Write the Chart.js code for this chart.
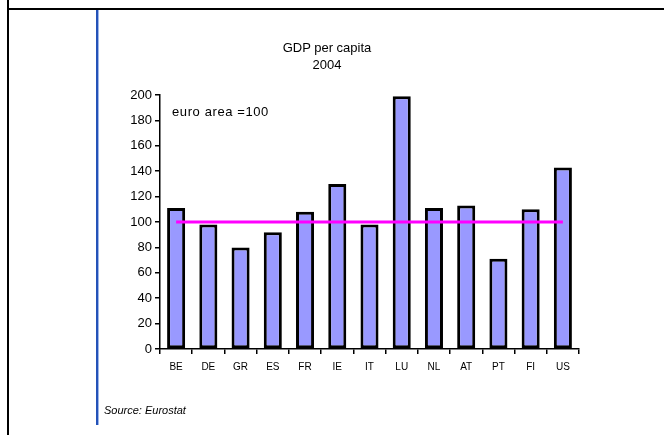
<!DOCTYPE html>
<html lang="en">
<head>
  <meta charset="UTF-8">
  <title>GDP per capita 2004</title>
  <script src="https://cdn.jsdelivr.net/npm/chart.js"></script>
  <style>
    body {
      margin: 0;
      padding: 0;
      background: #fff;
      font-family: 'Liberation Sans', Arial, sans-serif;
      color: #000;
    }
    .page {
      position: relative;
      width: 664px;
      height: 435px;
      overflow: hidden;
    }
    .frame-left {
      position: absolute; left: 7px; top: 0; width: 2px; height: 435px; background: #000;
    }
    .frame-top {
      position: absolute; left: 7px; top: 8px; width: 657px; height: 2px; background: #000;
    }
    .blue-rule {
      position: absolute; left: 96px; top: 10px; width: 2px; height: 415px;
      background: #2452b8; border-right: 1px solid #9db6ea;
    }
    #chart {
      position: absolute; left: 0; top: 0;
    }
    .title {
      position: absolute; left: 227px; top: 39px; width: 200px;
      text-align: center; font-size: 13px; line-height: 17px;
    }
    .note {
      position: absolute; left: 172px; top: 104px;
      font-size: 13px; letter-spacing: 0.6px;
    }
    .source {
      position: absolute; left: 104px; top: 404px;
      font-size: 11px; font-style: italic;
    }
  </style>
</head>
<body>
  <div class="page">
    <div class="frame-left"></div>
    <div class="frame-top"></div>
    <div class="blue-rule"></div>
    <canvas id="chart" width="664" height="435"></canvas>
    <div class="title">GDP per capita<br>2004</div>
    <div class="note">euro area =100</div>
    <div class="source">Source: Eurostat</div>
  </div>
  <script>
    const countries = ['BE', 'DE', 'GR', 'ES', 'FR', 'IE', 'IT', 'LU', 'NL', 'AT', 'PT', 'FI', 'US'];
    const gdpPerCapita = [111, 98, 80, 92, 108, 130, 98, 199, 111, 113, 71, 110, 143];
    const euroArea = [100, 100, 100, 100, 100, 100, 100, 100, 100, 100, 100, 100, 100];
    const yTicks = [0, 20, 40, 60, 80, 100, 120, 140, 160, 180, 200];

    new Chart(document.getElementById('chart'), {
      data: {
        labels: countries,
        datasets: [
          {
            type: 'line',
            data: euroArea,
            borderColor: '#ff00ff',
            borderWidth: 3,
            pointRadius: 0,
            order: 1
          },
          {
            type: 'bar',
            data: gdpPerCapita,
            backgroundColor: '#9999ff',
            borderColor: '#000',
            borderWidth: 3,
            borderSkipped: false,
            barPercentage: 0.56,
            categoryPercentage: 1.0,
            order: 2
          }
        ]
      },
      options: {
        responsive: false,
        animation: false,
        events: [],
        layout: { padding: { left: 100, right: 85, top: 95, bottom: 56 } },
        plugins: { legend: { display: false }, tooltip: { enabled: false } },
        scales: {
          x: {
            offset: true,
            grid: { offset: true, drawOnChartArea: false, drawTicks: true, tickLength: 5, color: '#000', lineWidth: 1.5 },
            border: { color: '#000', width: 1.5 },
            ticks: { color: '#000', padding: 7, font: { family: 'Liberation Sans', size: 10 } },
            afterFit: s => { s.height = 30; }
          },
          y: {
            min: yTicks[0],
            max: yTicks[yTicks.length - 1],
            afterBuildTicks: s => { s.ticks = yTicks.map(v => ({ value: v })); },
            grid: { drawOnChartArea: false, drawTicks: true, tickLength: 5, color: '#000', lineWidth: 1.5 },
            border: { color: '#000', width: 1.5 },
            ticks: { color: '#000', padding: 3, font: { family: 'Liberation Sans', size: 13 } },
            afterFit: s => { s.width = 60; }
          }
        }
      }
    });
  </script>
</body>
</html>
